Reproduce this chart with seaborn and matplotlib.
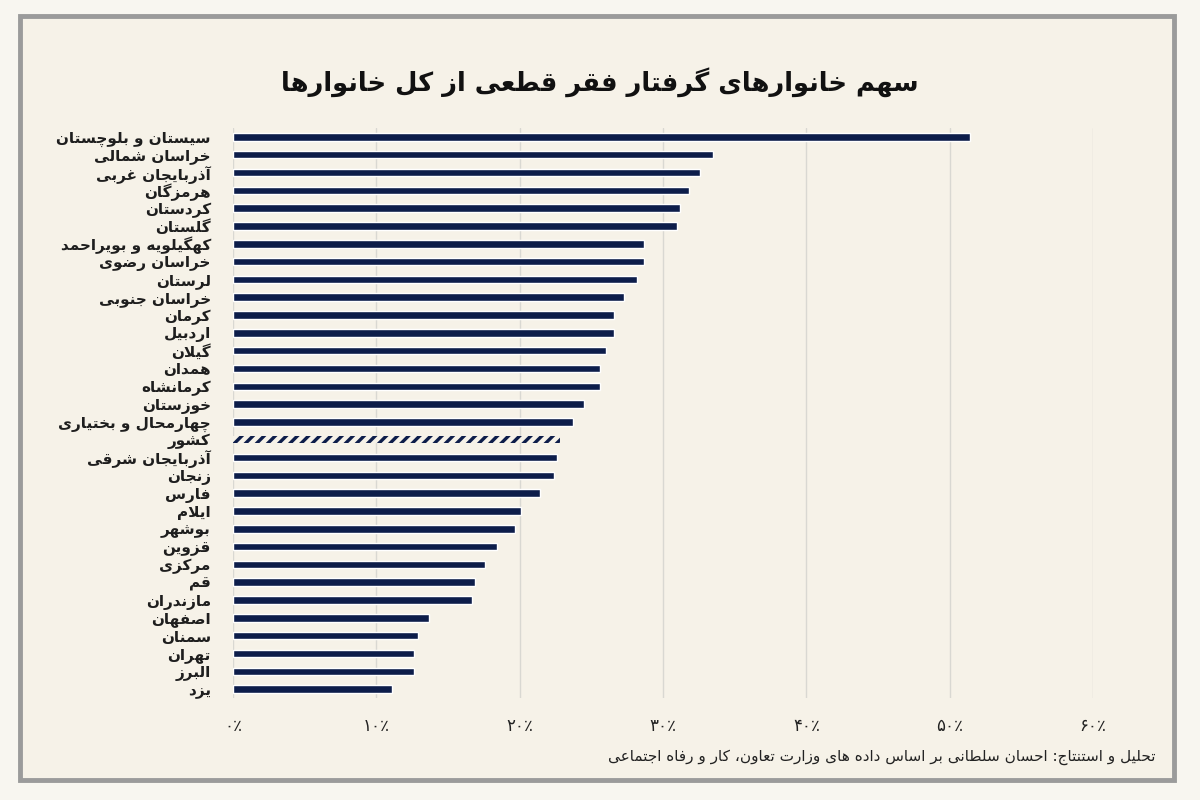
import matplotlib
matplotlib.use("Agg")
import matplotlib.pyplot as plt
from matplotlib.patches import Rectangle
import seaborn as sns
import pandas as pd

# provinces, top to bottom
provinces = [
    "سیستان و بلوچستان", "خراسان شمالی", "آذربایجان غربی", "هرمزگان", "کردستان",
    "گلستان", "کهگیلویه و بویراحمد", "خراسان رضوی", "لرستان", "خراسان جنوبی",
    "کرمان", "اردبیل", "گیلان", "همدان", "کرمانشاه", "خوزستان",
    "چهارمحال و بختیاری", "کشور", "آذربایجان شرقی", "زنجان", "فارس", "ایلام",
    "بوشهر", "قزوین", "مرکزی", "قم", "مازندران", "اصفهان", "سمنان", "تهران",
    "البرز", "یزد",
]
# share of households in extreme poverty (%)
share = [
    51.4, 33.5, 32.6, 31.8, 31.2,
    31.0, 28.7, 28.7, 28.2, 27.3,
    26.6, 26.6, 26.0, 25.6, 25.6, 24.5,
    23.7, 22.8, 22.6, 22.4, 21.4, 20.1,
    19.7, 18.4, 17.6, 16.9, 16.7, 13.7, 12.9, 12.6,
    12.6, 11.1,
]
national = "کشور"
ticks = [0, 10, 20, 30, 40, 50, 60]
tick_labels = ["۰٪", "۱۰٪", "۲۰٪", "۳۰٪", "۴۰٪", "۵۰٪", "۶۰٪"]

title = "سهم خانوارهای گرفتار فقر قطعی از کل خانوارها"
source = "تحلیل و استنتاج: احسان سلطانی بر اساس داده های وزارت تعاون، کار و رفاه اجتماعی"

# --- minimal arabic/persian shaping (matplotlib has no bidi / joining) ---
DUAL = {"ئ": 0xFE89, "ب": 0xFE8F, "ت": 0xFE95, "ث": 0xFE99, "ج": 0xFE9D, "ح": 0xFEA1,
        "خ": 0xFEA5, "س": 0xFEB1, "ش": 0xFEB5, "ص": 0xFEB9, "ض": 0xFEBD, "ط": 0xFEC1,
        "ظ": 0xFEC5, "ع": 0xFEC9, "غ": 0xFECD, "ف": 0xFED1, "ق": 0xFED5, "ك": 0xFED9,
        "ل": 0xFEDD, "م": 0xFEE1, "ن": 0xFEE5, "ه": 0xFEE9, "ي": 0xFEF1,
        "پ": 0xFB56, "چ": 0xFB7A, "ک": 0xFB8E, "گ": 0xFB92, "ی": 0xFBFC}
RIGHT = {"آ": 0xFE81, "أ": 0xFE83, "ؤ": 0xFE85, "إ": 0xFE87, "ا": 0xFE8D, "ة": 0xFE93,
         "د": 0xFEA9, "ذ": 0xFEAB, "ر": 0xFEAD, "ز": 0xFEAF, "و": 0xFEED, "ژ": 0xFB8A}


def fa(text):
    out = []
    n = len(text)
    i = 0
    while i < n:
        ch = text[i]
        prev = text[i - 1] if i > 0 else ""
        nxt = text[i + 1] if i + 1 < n else ""
        join_prev = prev in DUAL
        if ch == "ل" and nxt in ("ا", "آ"):
            base = 0xFEFB if nxt == "ا" else 0xFEF5
            out.append(chr(base + (1 if join_prev else 0)))
            i += 2
            continue
        if ch in DUAL:
            join_next = nxt in DUAL or nxt in RIGHT
            form = {(False, False): 0, (True, False): 1,
                    (False, True): 2, (True, True): 3}[(join_prev, join_next)]
            out.append(chr(DUAL[ch] + form))
        elif ch in RIGHT:
            out.append(chr(RIGHT[ch] + (1 if join_prev else 0)))
        elif ch == "\u200c":
            pass
        else:
            out.append(ch)
        i += 1
    return "".join(out)[::-1]


navy = "#0d1d4a"
inner_bg = "#f6f2e8"
outer_bg = "#f8f6f0"

sns.set_style("white")
plt.rcParams["font.family"] = ["DejaVu Sans"]
plt.rcParams["hatch.linewidth"] = 2.4

df = pd.DataFrame({"province": [fa(p) for p in provinces], "share": share})

fig = plt.figure(figsize=(12, 8), dpi=100, facecolor=outer_bg)
fig.patches.append(Rectangle((20 / 1200, 1 - 780 / 800), 1154 / 1200, 764 / 800,
                             transform=fig.transFigure, facecolor=inner_bg,
                             edgecolor="#9b9b9b", linewidth=3.5, zorder=-1))

ax = fig.add_axes([233 / 1200, 1 - 698 / 800, (1093 - 233) / 1200, (698 - 128) / 800])
ax.set_facecolor("none")

sns.barplot(data=df, x="share", y="province", orient="h", color=navy,
            width=0.42, saturation=1, ax=ax, zorder=3)

idx = provinces.index(national)
bar = ax.patches[idx]
bar.set_facecolor(inner_bg)
bar.set_edgecolor(navy)
bar.set_linewidth(0)
bar.set_hatch("///")

ax.set_xlim(0, 60)
ax.set_ylim(len(provinces) - 0.5, -0.5)
ax.set_xticks(ticks)
ax.set_xticklabels(tick_labels, fontsize=12, color="#222222")
ax.grid(axis="x", color="#d9d8d2", linewidth=1)
ax.set_axisbelow(True)
ax.tick_params(axis="x", length=0, pad=14)
ax.tick_params(axis="y", length=0, pad=16)
for lab in ax.get_yticklabels():
    lab.set_fontweight("bold")
    lab.set_fontsize(11)
    lab.set_color("#1e1e1e")
ax.set_xlabel("")
ax.set_ylabel("")
sns.despine(ax=ax, left=True, bottom=True)

fig.text(0.5, 1 - 82 / 800, fa(title), ha="center", va="center",
         fontsize=18.5, fontweight="bold", color="#111111")
fig.text(1155 / 1200, 1 - 757 / 800, fa(source), ha="right", va="center",
         fontsize=11, color="#222222")

fig.savefig("out.png", dpi=100, facecolor=outer_bg)
